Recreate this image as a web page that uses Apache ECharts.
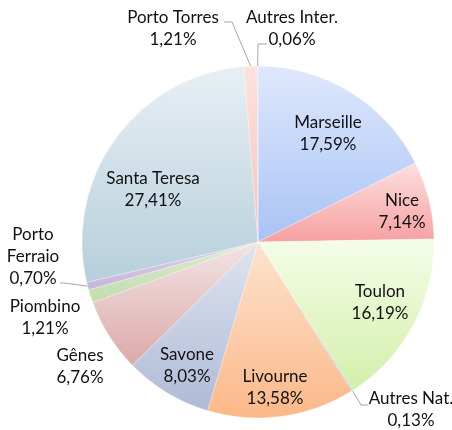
<!DOCTYPE html>
<html>
<head>
<meta charset="utf-8">
<script src="https://cdn.jsdelivr.net/npm/echarts@6/dist/echarts.min.js"></script>
<style>
  html, body { margin: 0; padding: 0; background: #fff; }
  #chart { width: 452px; height: 430px; }
</style>
</head>
<body>
<div id="chart"></div>
<script>
// ports, clockwise from 12 o'clock
var ports = ['Marseille', 'Nice', 'Toulon', 'Autres Nat.', 'Livourne', 'Savone',
  'Gênes', 'Piombino', 'Porto Ferraio', 'Santa Teresa', 'Porto Torres', 'Autres Inter.']
var shares = [17.59, 7.14, 16.19, 0.13, 13.58, 8.03, 6.76, 1.21, 0.70, 27.41, 1.21, 0.06]
// how the label text breaks
var labelNames = ['Marseille', 'Nice', 'Toulon', 'Autres Nat.', 'Livourne', 'Savone',
  'Gênes', 'Piombino', 'Porto\nFerraio', 'Santa Teresa', 'Porto Torres', 'Autres Inter.']

// slice fills: top / bottom of the gradient
var fills = [
  ['#dfe8fc', '#a9c3f5'],
  ['#fde0e0', '#f7a0a0'],
  ['#f5fde8', '#d3efaa'],
  ['#c4e8f2', '#a6d8ea'],
  ['#fde3cf', '#fbb888'],
  ['#dfe4f0', '#aebad6'],
  ['#f2e4e4', '#dca9a9'],
  ['#dcecd0', '#c2dcae'],
  ['#ddd2ea', '#c6b6da'],
  ['#e8eff4', '#b6cfdb'],
  ['#fde2dd', '#f6c2bb'],
  ['#d0e8f2', '#b4dcec']
]

// label block centres (px) and leader bends, only for labels that have a line
var labelAt = [[328, 134], [402, 212], [380, 303], [411, 410], [275, 388], [187, 366],
  [80, 367], [45, 318], [33, 257], [153, 190], [173, 29], [292, 29]]
var guideAt = {
  3: [[361, 405], [368, 405]],
  8: [[64, 283], [60, 283]],
  10: [[232, 22], [224, 22]],
  11: [[258, 44], [267, 44]]
}

var cx = 258
var cy = 242
var R = 176

var total = shares.reduce(function(a, b) { return a + b }, 0)
var midAngles = []
var acc = 0
shares.forEach(function(v) {
  midAngles.push((acc + v / 2) / total * Math.PI * 2)
  acc += v
})

var chart = echarts.init(document.getElementById('chart'))

var data = ports.map(function(name, i) {
  var hasLine = !!guideAt[i]
  return {
    name: name,
    value: shares[i],
    itemStyle: {
      color: new echarts.graphic.LinearGradient(0, 0, 0, 1, [
        { offset: 0, color: fills[i][0] },
        { offset: 1, color: fills[i][1] }
      ])
    },
    label: { position: hasLine ? 'outside' : 'inside' },
    labelLine: { show: hasLine }
  }
})

chart.setOption({
  animation: false,
  series: [
    {
      type: 'pie',
      center: [cx, cy],
      radius: R,
      startAngle: 90,
      clockwise: true,
      avoidLabelOverlap: false,
      itemStyle: {
        borderColor: 'rgba(255,255,255,0.5)',
        borderWidth: 0.5
      },
      label: {
        show: true,
        width: 120,
        fontFamily: 'Lato',
        fontSize: 17,
        lineHeight: 22,
        color: '#111',
        formatter: function(p) {
          return labelNames[p.dataIndex] + '\n' + shares[p.dataIndex].toFixed(2).replace('.', ',') + '%'
        }
      },
      labelLine: {
        lineStyle: { color: '#a6a6a6', width: 1 }
      },
      labelLayout: function(p) {
        var i = p.dataIndex
        var out = {
          x: labelAt[i][0],
          y: labelAt[i][1],
          align: 'center',
          verticalAlign: 'middle'
        }
        if (guideAt[i]) {
          var a = midAngles[i]
          var edge = [cx + R * Math.sin(a), cy - R * Math.cos(a)]
          out.labelLinePoints = [edge, guideAt[i][0], guideAt[i][1]]
        }
        return out
      },
      data: data
    }
  ]
})
</script>
</body>
</html>
